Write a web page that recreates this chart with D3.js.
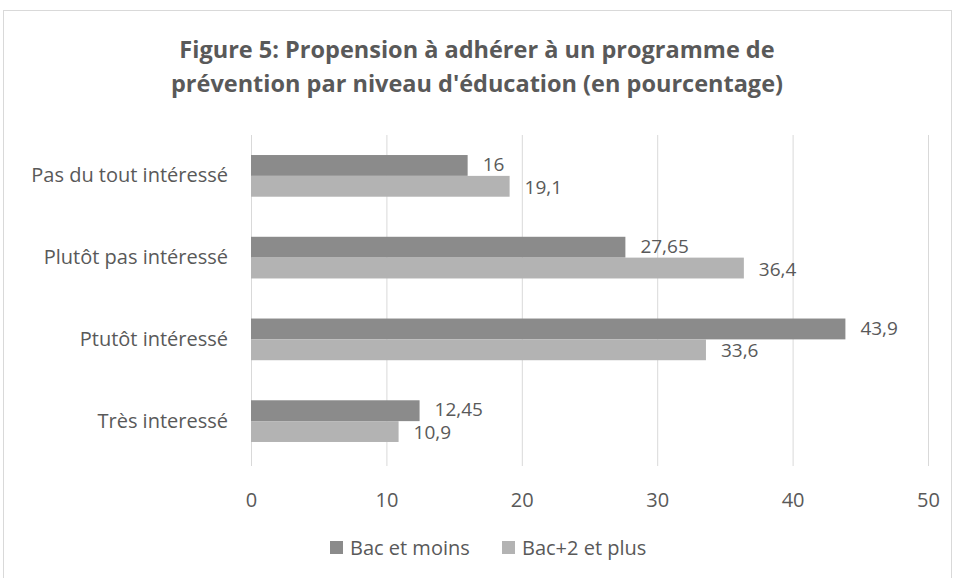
<!DOCTYPE html>
<html>
<head>
<meta charset="utf-8">
<script src="https://cdn.jsdelivr.net/npm/d3@7"></script>
<style>
  body { margin: 0; background: #fff; }
  text { font-family: "Open Sans", sans-serif; fill: #595959; }
</style>
</head>
<body>
<div id="chart"></div>
<script>
// data
const categories = ["Pas du tout intéressé", "Plutôt pas intéressé", "Ptutôt intéressé", "Très interessé"];
const seriesNames = ["Bac et moins", "Bac+2 et plus"];
const bacMoins = [16, 27.65, 43.9, 12.45];
const bacPlus = [19.1, 36.4, 33.6, 10.9];
const ticks = [0, 10, 20, 30, 40, 50];
const colors = ["#8b8b8b", "#b3b3b3"];

const W = 954, H = 578;
const margin = {top: 135, right: 26, bottom: 116, left: 251};

const svg = d3.select("#chart").append("svg")
    .attr("width", W).attr("height", H);

// chart border
svg.append("rect")
    .attr("x", 3.5).attr("y", 10.5)
    .attr("width", W - 6).attr("height", H)
    .attr("fill", "none").attr("stroke", "#d9d9d9");

// title
const title = svg.append("text")
    .attr("text-anchor", "middle")
    .style("font-weight", "bold").style("font-size", "23.5px");
title.append("tspan").attr("x", 477).attr("y", 58).text("Figure 5: Propension à adhérer à un programme de");
title.append("tspan").attr("x", 477).attr("y", 92).text("prévention par niveau d'éducation (en pourcentage)");

const x = d3.scaleLinear().domain([0, 50]).range([margin.left, W - margin.right]);
const y = d3.scaleBand().domain(categories).range([margin.top, H - margin.bottom]).paddingInner(0.49).paddingOuter(0.245);
const ys = d3.scaleBand().domain(seriesNames).range([0, y.bandwidth()]);

// gridlines
svg.append("g").selectAll("line").data(ticks).join("line")
    .attr("x1", d => x(d) + 0.5).attr("x2", d => x(d) + 0.5)
    .attr("y1", margin.top).attr("y2", H - margin.bottom + 4)
    .attr("stroke", "#d9d9d9");

// x axis labels
const xAxis = svg.append("g")
    .attr("transform", `translate(0, ${H - margin.bottom + 12})`)
    .call(d3.axisBottom(x).tickValues(ticks).tickSize(0).tickPadding(19));
xAxis.select(".domain").remove();
xAxis.selectAll("text").style("font-size", "20px").attr("fill", "#595959").style("font-family", "Open Sans");

// y axis labels
const yAxis = svg.append("g")
    .attr("transform", `translate(${margin.left}, 0)`)
    .call(d3.axisLeft(y).tickSize(0).tickPadding(23));
yAxis.select(".domain").remove();
yAxis.selectAll("text").style("font-size", "20px").attr("fill", "#595959").style("font-family", "Open Sans");

const series = [bacMoins, bacPlus];
const fmt = v => String(v).replace(".", ",");
const labelShift = [-1, 1];

series.forEach((vals, si) => {
  const g = svg.append("g");
  g.selectAll("rect").data(vals).join("rect")
    .attr("x", x(0))
    .attr("y", (d, i) => y(categories[i]) + ys(seriesNames[si]))
    .attr("width", d => x(d) - x(0))
    .attr("height", ys.bandwidth())
    .attr("fill", colors[si]);
  g.selectAll("text").data(vals).join("text")
    .attr("x", d => x(d) + 15)
    .attr("y", (d, i) => y(categories[i]) + ys(seriesNames[si]) + ys.bandwidth() / 2 + labelShift[si])
    .attr("dy", "0.35em")
    .style("font-size", "19px")
    .text(d => fmt(d));
});

// legend
const legend = svg.append("g").attr("transform", "translate(0, 548)");
const legX = [330, 502];
seriesNames.forEach((n, i) => {
  legend.append("rect").attr("x", legX[i]).attr("y", -7).attr("width", 13).attr("height", 13).attr("fill", colors[i]);
  legend.append("text").attr("x", legX[i] + 20).attr("y", 0).attr("dy", "0.35em")
    .style("font-size", "20px").text(n);
});
</script>
</body>
</html>
